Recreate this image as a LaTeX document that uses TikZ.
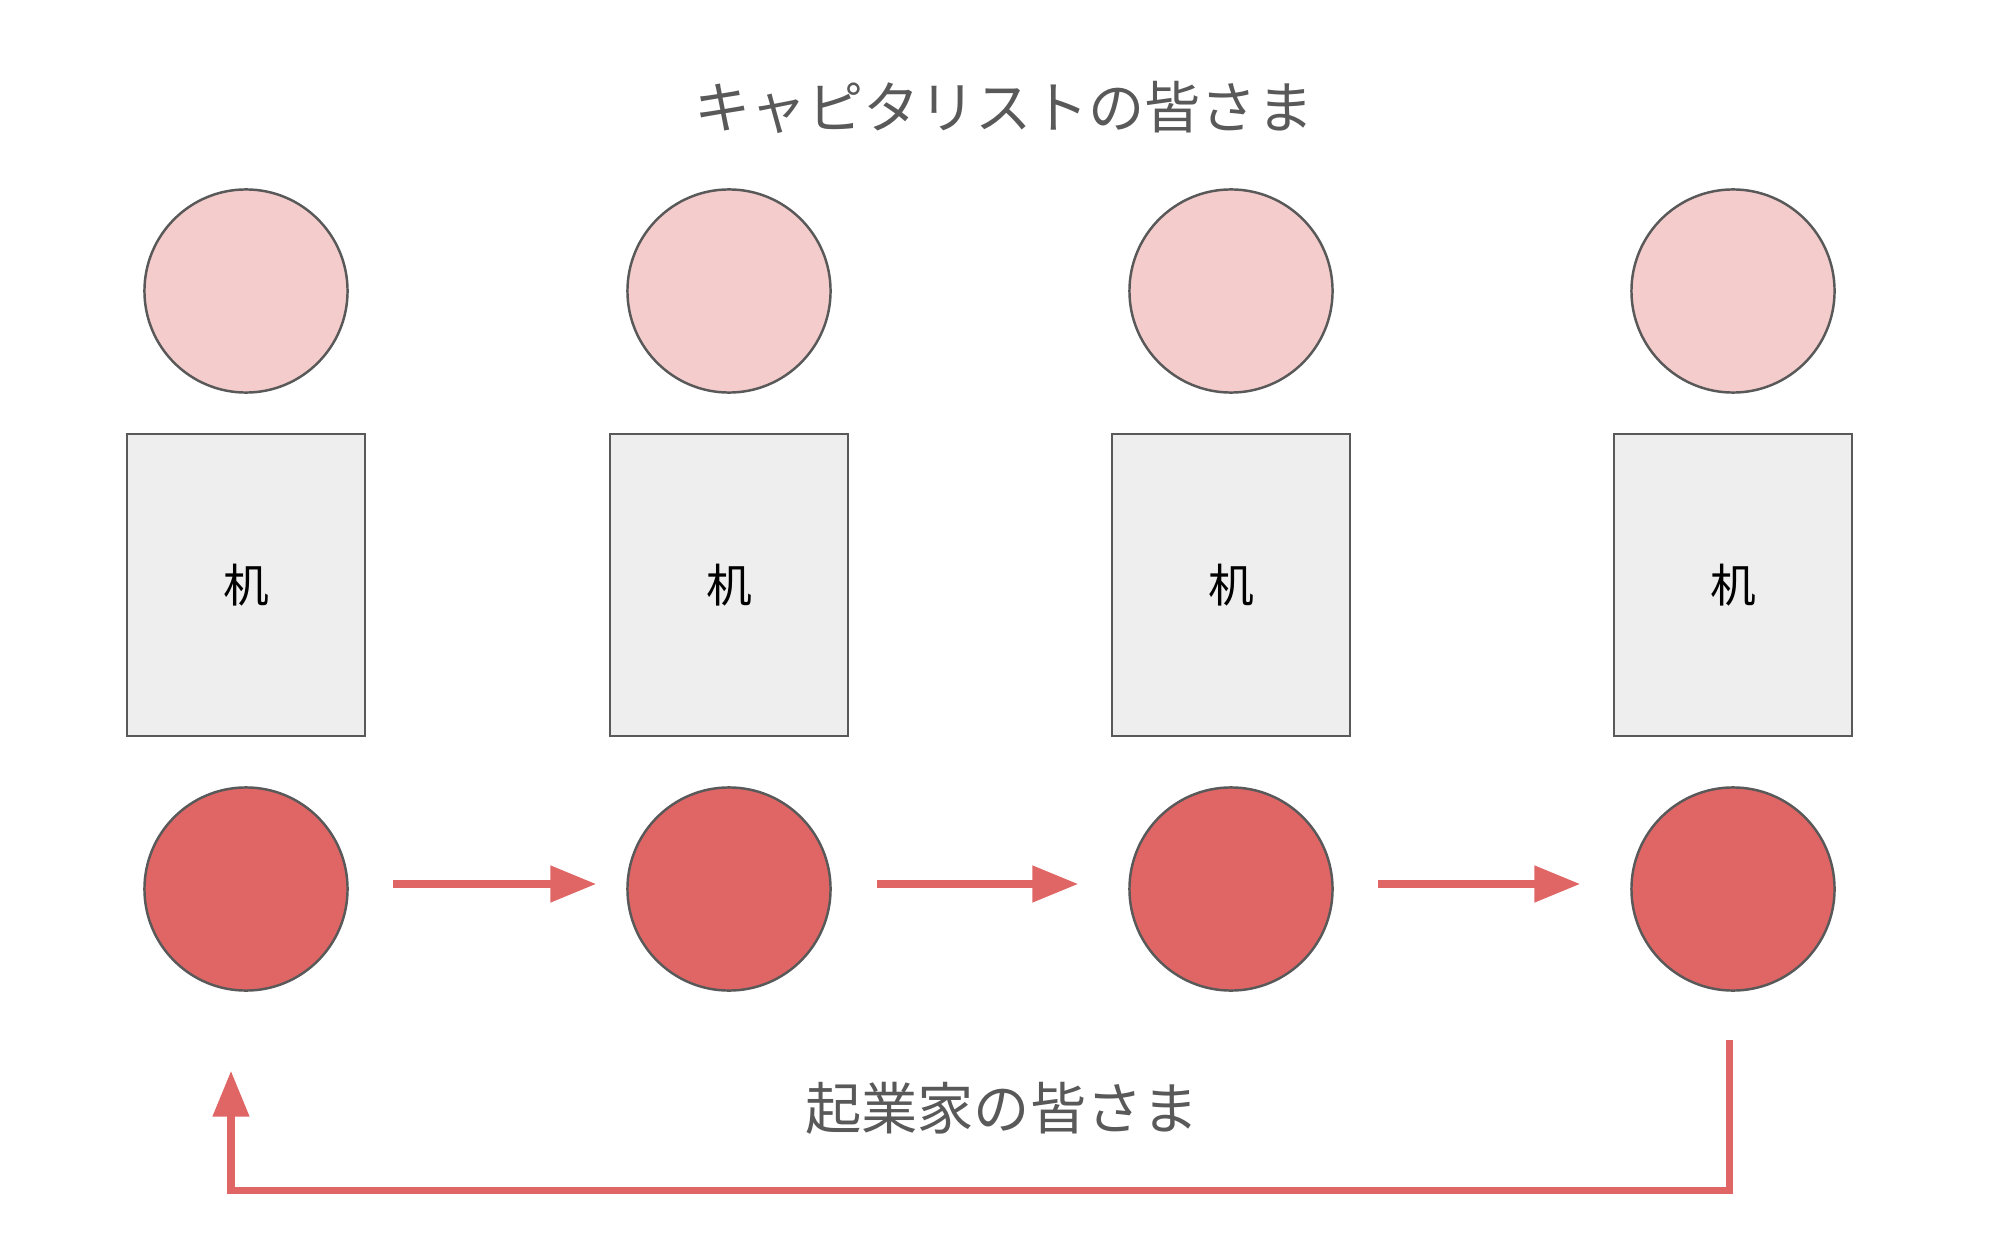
\documentclass[tikz,border=0pt]{standalone}
\usepackage{fontspec}
\setmainfont{Noto Sans CJK JP}
\usetikzlibrary{arrows.meta}
\definecolor{edgegray}{HTML}{595959}
\definecolor{capfill}{HTML}{F4CCCC}
\definecolor{entfill}{HTML}{E06666}
\definecolor{deskfill}{HTML}{EEEEEE}
\tikzset{
  capital/.style={draw=edgegray,line width=0.7pt,fill=capfill,circle,minimum size=2.03cm,inner sep=0pt},
  founder/.style={draw=edgegray,line width=0.7pt,fill=entfill,circle,minimum size=2.03cm,inner sep=0pt},
  desk/.style={draw=edgegray,line width=0.7pt,fill=deskfill,rectangle,minimum width=2.38cm,minimum height=3.02cm,font=\fontsize{13pt}{15pt}\selectfont},
  caption/.style={text=edgegray,font=\fontsize{16pt}{19pt}\selectfont},
  flow/.style={draw=entfill,line width=2pt,-{Triangle[length=13pt,width=10pt]}}
}
\begin{document}
\begin{tikzpicture}[x=0.01cm,y=-0.01cm]
        \useasboundingbox (0,0) rectangle (2000,1252);
        %% Title
        \node[caption] (top) at (1004,107) {キャピタリストの皆さま};
        %% Capitalists
        \node[capital] (c1) at (246,291) {};
        \node[capital] (c2) at (729,291) {};
        \node[capital] (c3) at (1231,291) {};
        \node[capital] (c4) at (1733,291) {};
        %% Desks
        \node[desk] (d1) at (246,585) {机};
        \node[desk] (d2) at (729,585) {机};
        \node[desk] (d3) at (1231,585) {机};
        \node[desk] (d4) at (1733,585) {机};
        %% Entrepreneurs
        \node[founder] (r1) at (246,889) {};
        \node[founder] (r2) at (729,889) {};
        \node[founder] (r3) at (1231,889) {};
        \node[founder] (r4) at (1733,889) {};
        %% Flow
        \draw[flow,shorten <=0.44cm,shorten >=0.30cm] ([yshift=0.05cm]r1.east) -- ([yshift=0.05cm]r2.west);
        \draw[flow,shorten <=0.45cm,shorten >=0.50cm] ([yshift=0.05cm]r2.east) -- ([yshift=0.05cm]r3.west);
        \draw[flow,shorten <=0.44cm,shorten >=0.50cm] ([yshift=0.05cm]r3.east) -- ([yshift=0.05cm]r4.west);
        \draw[flow] ([xshift=-0.04cm,yshift=-0.48cm]r4.south) -- ++(0,151) -| ([xshift=-0.15cm,yshift=-0.79cm]r1.south);
        %% Caption
        \node[caption] (bottom) at (1002,1108) {起業家の皆さま};
    \end{tikzpicture}
\end{document}
